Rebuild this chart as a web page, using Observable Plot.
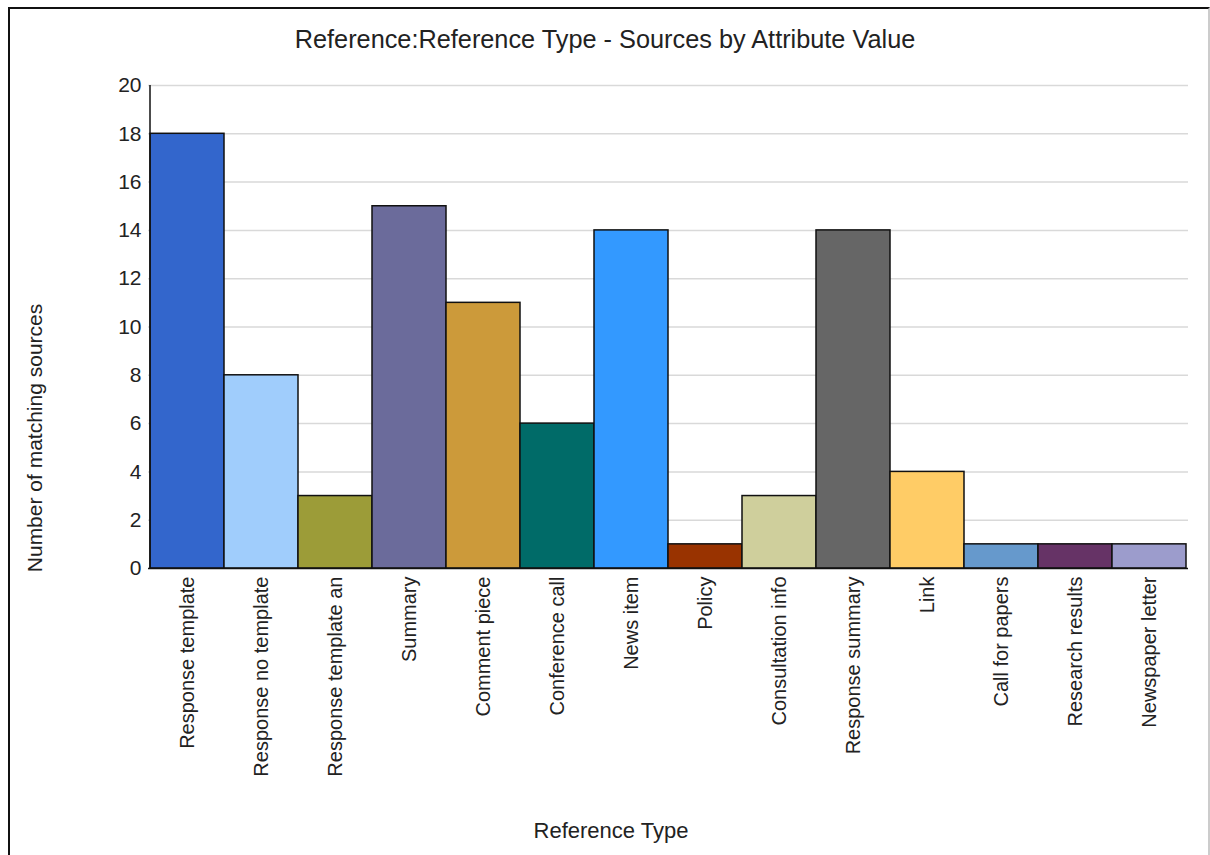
<!DOCTYPE html>
<html>
<head>
<meta charset="utf-8">
<script src="https://cdn.jsdelivr.net/npm/d3@7"></script>
<script src="https://cdn.jsdelivr.net/npm/@observablehq/plot@0.6"></script>
<style>
  html, body { margin: 0; padding: 0; background: #fff; }
  body { width: 1210px; height: 855px; overflow: hidden; position: relative; font-family: "Liberation Sans", Arial, sans-serif; }
  #frame { position: absolute; left: 8px; top: 7px; width: 1198px; height: 900px;
           border-left: 2px solid #111; border-top: 2px solid #111; border-right: 2px solid #ccc; }
  #title { position: absolute; left: 0; top: 0; width: 1210px; height: 70px; text-align: center;
           line-height: 78px; font-size: 25.3px; color: #222; }
  #chart { position: absolute; left: 0; top: 70px; }
</style>
</head>
<body>
<div id="frame"></div>
<div id="title">Reference:Reference Type - Sources by Attribute Value</div>
<div id="chart"></div>
<script>
const categories = ["Response template", "Response no template", "Response template an", "Summary",
  "Comment piece", "Conference call", "News item", "Policy", "Consultation info", "Response summary",
  "Link", "Call for papers", "Research results", "Newspaper letter"];
const counts = [18, 8, 3, 15, 11, 6, 14, 1, 3, 14, 4, 1, 1, 1];
const colors = ["#3366CC", "#A0CDFC", "#9C9C38", "#6B6B9B", "#CC9A3A", "#006B68", "#3399FF", "#993300",
  "#CFCF9C", "#666666", "#FFCC66", "#6699CC", "#663366", "#9C9CCC"];
const yTicks = [0, 2, 4, 6, 8, 10, 12, 14, 16, 18, 20];
const yLabel = "Number of matching sources";
const xLabel = "Reference Type";

const data = categories.map((c, i) => ({category: c, count: counts[i], color: colors[i]}));

// left axis line, drawn from the scales
function leftAxisLine(index, scales) {
  const x0 = scales.x(categories[0]);
  return d3.create("svg:line")
    .attr("x1", x0).attr("x2", x0)
    .attr("y1", scales.y(0)).attr("y2", scales.y(20))
    .attr("stroke", "#111").attr("stroke-width", 1.5).node();
}
// axis titles
function axisTitles(index, scales, values, dims) {
  const g = d3.create("svg:g").attr("fill", "#222").attr("font-family", "'Liberation Sans', Arial, sans-serif");
  g.append("text").attr("transform", "translate(35,368) rotate(-90)")
    .attr("text-anchor", "middle").attr("dy", "0.35em").attr("font-size", 21).text(yLabel);
  g.append("text").attr("x", 611).attr("y", 760)
    .attr("text-anchor", "middle").attr("dy", "0.35em").attr("font-size", 22).text(xLabel);
  return g.node();
}

const chart = Plot.plot({
  width: 1210,
  height: 785,
  marginTop: 15,
  marginBottom: 287,
  marginLeft: 148,
  marginRight: 22,
  style: {fontFamily: "'Liberation Sans', Arial, sans-serif", fontSize: "16px", color: "#222", background: "transparent"},
  x: {domain: categories, padding: 0, label: null},
  y: {domain: [0, 20], label: null},
  marks: [
    Plot.ruleY(yTicks.filter(d => d > 0), {stroke: "#d9d9d9", strokeWidth: 1.5, strokeOpacity: 1}),
    Plot.barY(data, {x: "category", y: "count", fill: d => d.color, stroke: "#111", strokeWidth: 1.5, inset: 0}),
    Plot.axisY({ticks: yTicks, tickSize: 0, tickPadding: 7, label: null, fontSize: 21}),
    Plot.axisX({tickSize: 0, tickPadding: 8, tickRotate: -90, label: null, fontSize: 20}),
    leftAxisLine,
    Plot.ruleY([0], {stroke: "#111", strokeWidth: 1.5}),
    axisTitles
  ]
});
document.getElementById("chart").appendChild(chart);
</script>
</body>
</html>
